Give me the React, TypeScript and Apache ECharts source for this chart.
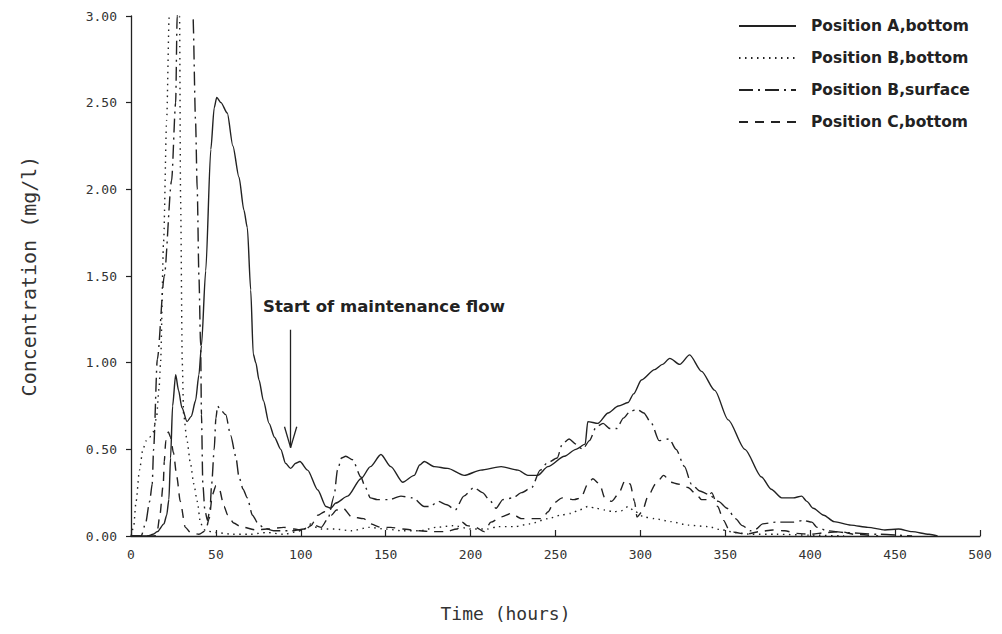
import React, { useEffect, useRef } from "react";
import * as echarts from "echarts";

// ---------- data (hours, mg/l) ----------
const seriesNames = [
  "Position A,bottom",
  "Position B,bottom",
  "Position B,surface",
  "Position C,bottom",
];

const posABottom: [number, number][] = [
  [0, 0], [10, 0], [13, 0.01], [15.5, 0.025], [19.4, 0.07], [21, 0.12], [22.3, 0.21], [23.3, 0.45],
  [24.5, 0.75], [26.3, 0.93], [28, 0.84], [30, 0.74], [33, 0.66], [35.5, 0.69], [38, 0.78], [40, 0.93],
  [41.5, 1.1], [44, 1.53], [47, 2.23], [49, 2.47], [50.5, 2.53], [53, 2.5], [56.7, 2.44], [60, 2.25],
  [63.6, 2.07], [66.5, 1.88], [68.5, 1.78], [70.5, 1.42], [72, 1.05], [73.5, 1.0], [75.4, 0.9], [78, 0.78],
  [81.3, 0.65], [84.5, 0.57], [88.2, 0.5], [91, 0.42], [94, 0.39], [97, 0.42], [99.5, 0.43], [104, 0.38],
  [110, 0.265], [114.8, 0.17], [117.7, 0.16], [120.6, 0.19], [127.6, 0.23], [135.4, 0.33], [141, 0.4],
  [147.2, 0.47], [153, 0.4], [160, 0.31], [166.8, 0.35], [170, 0.41], [172.7, 0.43], [178.6, 0.4],
  [186.5, 0.39], [196.3, 0.35], [206, 0.38], [218, 0.4], [227.9, 0.38], [233.7, 0.35], [239.6, 0.35],
  [245.5, 0.4], [255.3, 0.46], [262, 0.5], [267.5, 0.53], [269, 0.66], [275, 0.65], [281, 0.71],
  [287, 0.75], [292.7, 0.77], [296, 0.82], [300.6, 0.9], [308.4, 0.96], [313, 0.99], [317.3, 1.025],
  [323.2, 0.99], [329, 1.045], [336, 0.95], [343.8, 0.84], [351.7, 0.67], [361.5, 0.5], [371.4, 0.34],
  [377, 0.27], [383.2, 0.22], [390, 0.22], [395, 0.23], [398, 0.2], [401.8, 0.16], [408, 0.12],
  [414, 0.083], [424, 0.063], [434, 0.05], [444, 0.035], [452, 0.04], [460, 0.025], [470, 0.01], [475, 0],
];

const posBBottom: [number, number][] = [
  [0, 0], [1.5, 0.05], [3, 0.2], [5, 0.38], [7, 0.5], [9, 0.55], [11, 0.57], [13, 0.6], [15, 0.68],
  [16.5, 0.85], [17.4, 1.0], [19.2, 1.7], [21, 2.4], [22.5, 3.0], [24.5, 3.5], [26.5, 3.5], [28.6, 3.0],
  [29.2, 1.95], [30.2, 1.0], [31, 0.7], [33, 0.55], [35, 0.42], [37, 0.3], [39, 0.2], [41, 0.07],
  [44, 0.03], [50, 0.02], [60, 0.01], [70, 0.01], [80, 0.02], [90, 0.01], [100, 0.03], [106, 0.06],
  [112, 0.04], [120, 0.04], [130, 0.03], [140, 0.05], [150, 0.04], [160, 0.03], [170, 0.03], [180, 0.05],
  [190, 0.06], [200, 0.04], [210, 0.04], [216, 0.054], [226, 0.054], [235, 0.07], [245.5, 0.1],
  [253, 0.12], [259, 0.13], [264, 0.15], [269, 0.17], [274, 0.16], [279, 0.15], [284, 0.14],
  [288.8, 0.146], [292.8, 0.17], [297, 0.14], [302, 0.11], [308.4, 0.1], [318, 0.083], [328, 0.063],
  [340, 0.054], [348, 0.035], [356, 0.02], [365, 0.01], [380, 0.01], [400, 0.005], [420, 0],
];

const posBSurface: [number, number][] = [
  [0, 0], [6, 0], [8.5, 0.07], [11, 0.2], [12.5, 0.3], [13.3, 0.5], [15.5, 1.02], [19.6, 1.5],
  [23.9, 2.05], [26.3, 2.5], [27.2, 3.0], [29, 3.5], [32, 3.7], [35, 3.5], [36.5, 3.0], [38, 2.4],
  [39, 2.0], [40, 1.5], [41, 1.1], [41.5, 0.7], [42.3, 0.3], [43.5, 0.15], [45, 0.09], [46.5, 0.15],
  [47.5, 0.3], [49, 0.5], [50, 0.68], [51, 0.75], [52.5, 0.73], [55.8, 0.7], [58.7, 0.58], [61.7, 0.46],
  [63.6, 0.34], [66, 0.27], [68.5, 0.22], [71.5, 0.12], [75, 0.07], [78.3, 0.046], [84, 0.03],
  [95, 0.03], [102, 0.04], [106, 0.07], [112, 0.05], [116, 0.1], [119.6, 0.23], [121.6, 0.38],
  [124, 0.45], [126.5, 0.46], [130.5, 0.44], [135.4, 0.34], [138, 0.28], [141, 0.22], [145, 0.21],
  [152, 0.21], [159, 0.23], [166, 0.22], [172.7, 0.17], [176, 0.17], [181, 0.2], [186, 0.18],
  [191, 0.15], [196, 0.23], [202, 0.28], [207, 0.25], [211, 0.21], [215, 0.16], [219, 0.21],
  [225, 0.22], [230, 0.25], [236, 0.28], [241, 0.38], [245, 0.42], [251, 0.45], [254, 0.53],
  [258, 0.56], [262, 0.53], [266, 0.5], [270, 0.55], [274, 0.63], [278, 0.65], [282, 0.62],
  [286, 0.62], [290, 0.68], [294, 0.72], [298, 0.73], [302, 0.71], [306.5, 0.65], [311, 0.55],
  [317, 0.56], [321, 0.5], [326, 0.4], [330, 0.3], [335, 0.26], [340, 0.24], [346, 0.2], [351, 0.16],
  [356, 0.1], [360, 0.06], [365, 0.03], [368, 0.04], [372, 0.07], [380, 0.08], [390, 0.08],
  [396, 0.09], [401, 0.08], [404, 0.05], [410, 0.03], [420, 0.02], [440, 0.01], [460, 0],
];

const posCBottom: [number, number][] = [
  [0, 0], [14, 0], [15.5, 0.03], [17, 0.12], [19, 0.3], [19.6, 0.43], [20.5, 0.55], [22, 0.6],
  [23.3, 0.57], [25, 0.48], [27, 0.34], [29, 0.2], [32, 0.05], [35, 0.02], [40, 0.01], [44, 0.03],
  [46, 0.1], [48, 0.24], [50, 0.29], [52, 0.27], [54.8, 0.17], [57, 0.12], [60.5, 0.075], [64.6, 0.054],
  [73.5, 0.035], [80, 0.04], [90, 0.05], [96, 0.04], [102, 0.03], [106, 0.06], [110, 0.12], [114, 0.14],
  [118, 0.12], [121, 0.15], [125, 0.16], [130, 0.11], [137, 0.1], [141, 0.07], [147, 0.05], [153, 0.05],
  [160, 0.04], [170, 0.03], [177, 0.025], [185, 0.025], [192, 0.04], [195, 0.08], [198, 0.06],
  [203, 0.05], [208, 0.025], [212, 0.08], [218, 0.11], [224, 0.13], [230, 0.1], [236, 0.1], [242, 0.1],
  [245.7, 0.14], [248.8, 0.19], [254, 0.22], [261, 0.21], [265, 0.22], [269, 0.3], [272, 0.33],
  [276, 0.3], [279, 0.22], [283, 0.2], [287, 0.24], [291, 0.32], [294, 0.3], [296.5, 0.2], [298, 0.11],
  [301, 0.14], [304.5, 0.23], [309, 0.3], [313.7, 0.35], [318, 0.31], [322, 0.3], [328, 0.28],
  [333, 0.24], [336, 0.21], [339, 0.21], [342, 0.25], [345.5, 0.17], [349, 0.09], [352, 0.04],
  [356, 0.02], [362, 0.01], [370, 0.025], [378, 0.035], [385, 0.03], [392, 0.015], [400, 0.01],
  [410, 0.02], [418, 0.025], [426, 0.01], [440, 0],
];

// annotation: start of maintenance flow (hours, mg/l)
const annotationText = "Start of maintenance flow";
const arrowX = 94;
const arrowTop = 1.19;
const arrowTip = 0.51;
const arrowHeadHalfWidth = 3.6;
const arrowHeadLength = 0.12;

// axis
const xMin = 0, xMax = 500, xStep = 50;
const yMin = 0, yMax = 3, yStep = 0.5;

const INK = "#222";

export default function App() {
  const ref = useRef<HTMLDivElement>(null);

  useEffect(() => {
    if (!ref.current) return;
    const chart = echarts.init(ref.current, null, { renderer: "svg" });
    const lineBase = { color: INK, width: 1.4 };
    const mk = (name: string, data: [number, number][], type: any) => ({
      name,
      type: "line",
      data,
      symbol: "none",
      smooth: 0.25,
      smoothMonotone: "x",
      clip: true,
      lineStyle: { ...lineBase, type },
      itemStyle: { color: INK },
      z: 3,
    });

    const s0: any = mk(seriesNames[0], posABottom, "solid");
    s0.markLine = {
      silent: true,
      symbol: "none",
      animation: false,
      label: { show: false },
      lineStyle: { color: INK, width: 1.3, type: "solid" },
      data: [
        [{ coord: [arrowX, arrowTop] }, { coord: [arrowX, arrowTip] }],
        [{ coord: [arrowX - arrowHeadHalfWidth, arrowTip + arrowHeadLength] }, { coord: [arrowX, arrowTip] }],
        [{ coord: [arrowX + arrowHeadHalfWidth, arrowTip + arrowHeadLength] }, { coord: [arrowX, arrowTip] }],
      ],
    };

    chart.setOption({
      animation: false,
      backgroundColor: "#fff",
      grid: { left: 131, right: 22, top: 16, bottom: 98, containLabel: false },
      legend: {
        orient: "vertical",
        left: 733,
        top: 13,
        itemWidth: 57,
        itemHeight: 14,
        itemGap: 16,
        selectedMode: false,
        data: seriesNames,
        itemStyle: { opacity: 0 },
        textStyle: {
          fontFamily: "DejaVu Sans",
          fontWeight: "bold",
          fontSize: 15.5,
          color: INK,
          padding: [0, 0, 0, 10],
        },
      },
      xAxis: {
        type: "value",
        min: xMin,
        max: xMax,
        interval: xStep,
        name: "Time (hours)",
        nameLocation: "middle",
        nameGap: 68,
        nameTextStyle: {
          fontFamily: "DejaVu Sans Mono",
          fontSize: 18,
          color: "#333",
          padding: [0, 100, 0, 0],
        },
        axisLine: { lineStyle: { color: INK, width: 1.3 } },
        axisTick: { inside: true, length: 6, lineStyle: { color: INK, width: 1.2 } },
        axisLabel: {
          margin: 12,
          fontFamily: "DejaVu Sans Mono",
          fontSize: 13,
          color: "#333",
        },
        splitLine: { show: false },
      },
      yAxis: {
        type: "value",
        min: yMin,
        max: yMax,
        interval: yStep,
        name: "Concentration (mg/l)",
        nameLocation: "middle",
        nameGap: 92,
        nameRotate: 90,
        nameTextStyle: {
          fontFamily: "DejaVu Sans Mono",
          fontSize: 20,
          color: "#333",
        },
        axisLine: { show: true, lineStyle: { color: INK, width: 1.3 } },
        axisTick: { show: true, inside: false, length: 5, lineStyle: { color: INK, width: 1.2 } },
        axisLabel: {
          margin: 14,
          fontFamily: "DejaVu Sans Mono",
          fontSize: 13,
          color: "#333",
          formatter: (v: number) => v.toFixed(2),
        },
        splitLine: { show: false },
      },
      graphic: [
        {
          type: "text",
          left: 263,
          top: 298,
          style: {
            text: annotationText,
            font: "bold 16.5px 'DejaVu Sans'",
            fill: INK,
          },
        },
      ],
      series: [
        s0,
        mk(seriesNames[1], posBBottom, [1.5, 4.5]),
        mk(seriesNames[2], posBSurface, [14, 5, 2, 5]),
        mk(seriesNames[3], posCBottom, [9, 7]),
      ],
    });

    return () => chart.dispose();
  }, []);

  return (
    <div
      ref={ref}
      style={{ position: "absolute", left: 0, top: 0, width: 1002, height: 634 }}
    />
  );
}
